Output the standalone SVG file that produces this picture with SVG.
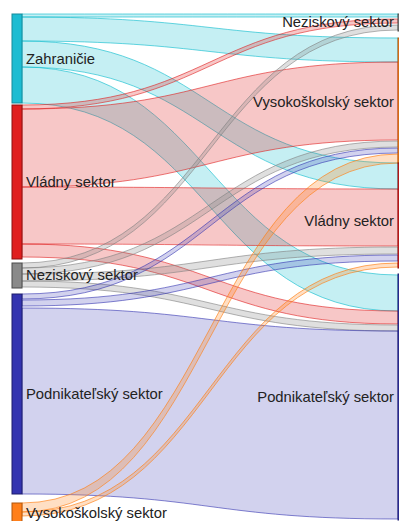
<svg xmlns="http://www.w3.org/2000/svg" width="399" height="521" viewBox="0 0 399 521">
<style>
.lc{fill:rgba(23,190,207,0.25);stroke:rgba(23,190,207,0.65);stroke-width:1}
.lr{fill:rgba(224,30,30,0.25);stroke:rgba(224,30,30,0.6);stroke-width:1}
.lg{fill:rgba(128,128,128,0.25);stroke:rgba(128,128,128,0.6);stroke-width:1}
.lb{fill:rgba(52,52,176,0.22);stroke:rgba(52,52,176,0.6);stroke-width:1}
.lo{fill:rgba(255,127,20,0.25);stroke:rgba(255,127,20,0.65);stroke-width:1}
.nc{fill:#1cbcd2;stroke:#148a9a}
.nr{fill:#e01e1e;stroke:#8a1010}
.ng{fill:#8a8a8a;stroke:#4a4a4a}
.nb{fill:#3434b0;stroke:#1c1c6a}
.no{fill:#ff7f1a;stroke:#b0560d}
text{font-family:"Liberation Sans",Arial,sans-serif;font-size:14.8px;fill:#222}
.r{text-anchor:end}
</style>
<rect width="399" height="521" fill="#fff"/>
<g id="links">
<path class="lc" d="M22,14 C210,14 210,14 398,14 L398,17 C210,17 210,17 22,17 Z"/>
<path class="lc" d="M22,17 C210,17 210,38 398,38 L398,62 C210,62 210,41 22,41 Z"/>
<path class="lc" d="M22,41 C210,41 210,163 398,163 L398,189 C210,189 210,67 22,67 Z"/>
<path class="lc" d="M22,67 C210,67 210,275 398,275 L398,311 C210,311 210,103 22,103 Z"/>
<path class="lr" d="M22,105 C210,105 210,19 398,19 L398,23 C210,23 210,109 22,109 Z"/>
<path class="lr" d="M22,109 C210,109 210,62 398,62 L398,140 C210,140 210,187 22,187 Z"/>
<path class="lr" d="M22,187 C210,187 210,189 398,189 L398,246 C210,246 210,244 22,244 Z"/>
<path class="lr" d="M22,244 C210,244 210,311 398,311 L398,324 C210,324 210,257 22,257 Z"/>
<path class="lg" d="M22,263 C210,263 210,25 398,25 L398,30 C210,30 210,268 22,268 Z"/>
<path class="lg" d="M22,268 C210,268 210,141 398,141 L398,147 C210,147 210,274 22,274 Z"/>
<path class="lg" d="M22,274 C210,274 210,247 398,247 L398,254 C210,254 210,281 22,281 Z"/>
<path class="lg" d="M22,281 C210,281 210,325 398,325 L398,331 C210,331 210,287 22,287 Z"/>
<path class="lb" d="M22,294 C210,294 210,148 398,148 L398,153 C210,153 210,299 22,299 Z"/>
<path class="lb" d="M22,300 C210,300 210,255 398,255 L398,261 C210,261 210,306 22,306 Z"/>
<path class="lb" d="M22,308 C210,308 210,331 398,331 L398,519 C210,519 210,494 22,494 Z"/>
<path class="lo" d="M22,503 C210,503 210,154 398,154 L398,163 C210,163 210,512 22,512 Z"/>
<path class="lo" d="M22,512 C210,512 210,263 398,263 L398,267 C210,267 210,516 22,516 Z"/>
</g>
<g id="src-zahranicie"><rect class="nc" x="12" y="14" width="10" height="89"/><text x="26" y="64">Zahraničie</text></g>
<g id="src-vladny"><rect class="nr" x="12" y="105" width="10" height="154"/><text x="26" y="187">Vládny sektor</text></g>
<g id="src-neziskovy"><rect class="ng" x="12" y="263" width="10" height="25"/><text x="26" y="280">Neziskový sektor</text></g>
<g id="src-podnikatelsky"><rect class="nb" x="12" y="294" width="10" height="200"/><text x="26" y="399">Podnikateľský sektor</text></g>
<g id="src-vysokoskolsky"><rect class="no" x="12" y="503" width="10" height="20"/><text x="26" y="518">Vysokoškolský sektor</text></g>
<g id="dst-neziskovy"><rect class="ng" x="398" y="14" width="10" height="17"/><text class="r" x="394" y="27">Neziskový sektor</text></g>
<g id="dst-vysokoskolsky"><rect class="no" x="398" y="38" width="10" height="125"/><text class="r" x="394" y="107">Vysokoškolský sektor</text></g>
<g id="dst-vladny"><rect class="nr" x="398" y="163" width="10" height="105"/><text class="r" x="394" y="226">Vládny sektor</text></g>
<g id="dst-podnikatelsky"><rect class="nb" x="398" y="274" width="10" height="246"/><text class="r" x="394" y="402">Podnikateľský sektor</text></g>
</svg>
